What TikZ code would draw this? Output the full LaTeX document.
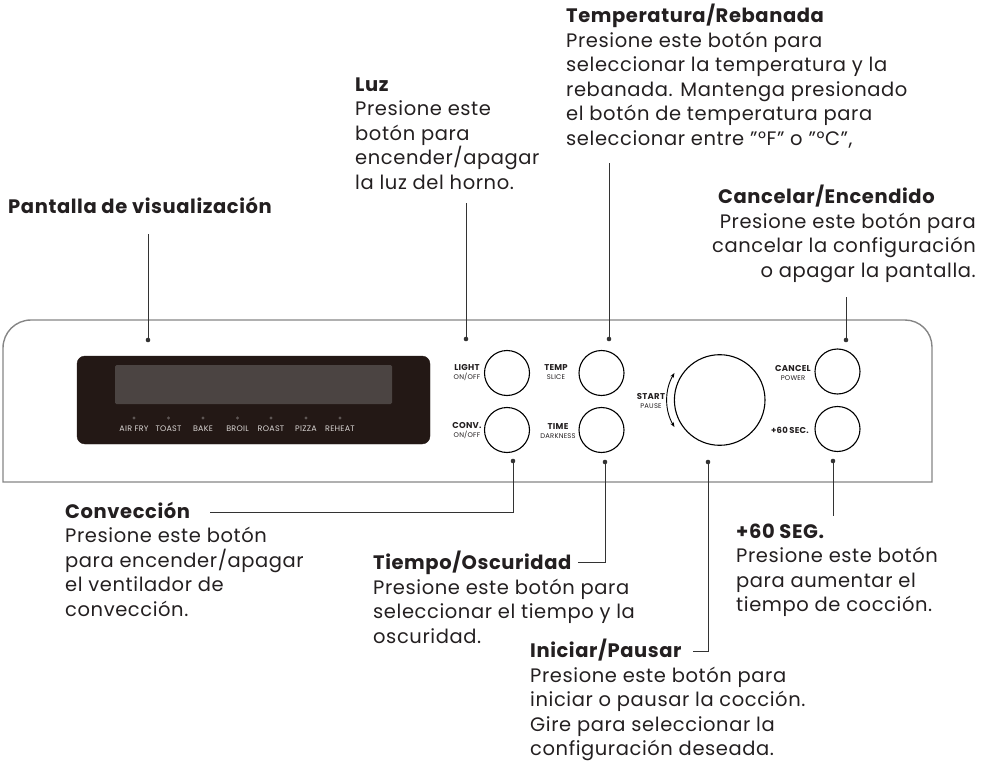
\documentclass[tikz,border=0pt]{standalone}
\usepackage{fontspec}
\setmainfont{Poppins}[LetterSpace=3]
\usetikzlibrary{arrows.meta}
\definecolor{txt}{HTML}{231F20}
\definecolor{pan}{HTML}{858585}
\definecolor{disp}{HTML}{231815}
\definecolor{scr}{HTML}{4B4442}
\definecolor{led}{HTML}{5E5654}
\definecolor{ledtxt}{HTML}{D9D5D3}
\definecolor{ln}{HTML}{333333}
\begin{document}
\begin{tikzpicture}[x=1pt,y=-1pt,
  body/.style={font=\fontsize{19.5}{24.5}\selectfont, text=txt, inner sep=0pt, align=left, anchor=north west},
  bodyr/.style={font=\fontsize{19.5}{24.5}\selectfont, text=txt, inner sep=0pt, align=right, anchor=north east},
  head/.style={font=\fontsize{19.5}{24.5}\selectfont\bfseries, text=txt, inner sep=0pt, anchor=base west},
  btn/.style={circle, draw=black, line width=1.1pt, minimum size=45pt, inner sep=0pt},
  knobst/.style={circle, draw=black, line width=1.1pt, minimum size=90.6pt, inner sep=0pt},
  blbl/.style={align=center, inner sep=0pt, text=txt, font=\fontsize{8.5}{9}\selectfont\bfseries},
  conn/.style={draw=ln, line width=0.9pt},
  cdot/.style={circle, fill=ln, inner sep=0pt, minimum size=4.6pt},
  mode/.style={font=\fontsize{8}{8}\selectfont, text=ledtxt, inner sep=0pt},
  ledd/.style={circle, fill=led, inner sep=0pt, minimum size=3.2pt}
]
\useasboundingbox (0,0) rectangle (997,765);
\newcommand{\sub}[1]{{\fontsize{6.8}{9}\selectfont\mdseries #1}}

% panel outline
\draw[draw=pan, line width=1.4pt] (3,482) -- (3,348) .. controls (3,332.5) and (15.5,320) .. (31,320)
  -- (905,320) .. controls (920,320) and (932,332) .. (932,347) -- (932,482) -- cycle;

% display
\draw[fill=disp, draw=disp, rounded corners=8pt] (77,356) rectangle (430,444);
\fill[scr, rounded corners=1.5pt] (115,365) rectangle (392,404);
\foreach \x/\m [count=\i] in {134/AIR FRY,168.5/TOAST,203/BAKE,237.5/BROIL,271/ROAST,306/PIZZA,340/REHEAT}{
  \node[ledd] (led\i) at (\x,418) {};
  \node[mode] (mode\i) at (\x,429) {\m};
}

% buttons
\node[btn] (light) at (507,373) {};
\node[btn] (conv) at (507,430) {};
\node[btn] (temp) at (601.5,373) {};
\node[btn] (time) at (601.5,430) {};
\node[btn] (cancel) at (837.5,371.5) {};
\node[btn] (sec) at (837.5,429) {};
\node[knobst] (knob) at (719.7,400) {};

\node[blbl] (lightl) at (467,372.5) {LIGHT\\\sub{ON/OFF}};
\node[blbl] (convl) at (467,431) {CONV.\\\sub{ON/OFF}};
\node[blbl] (templ) at (556,372.5) {TEMP\\\sub{SLICE}};
\node[blbl] (timel) at (558,431) {TIME\\\sub{DARKNESS}};
\node[blbl] (cancell) at (793,373) {CANCEL\\\sub{POWER}};
\node[blbl] (secl) at (790,430) {+60\,SEC.};
\node[blbl] (startl) at (651,401) {START\\\sub{PAUSE}};

% rotation arrows
\draw[line width=0.9pt, {Stealth[length=5pt,width=3.6pt]}-{Stealth[length=5pt,width=3.6pt]}]
  (674.5,372.9) .. controls (664.5,389.6) and (664.5,410.4) .. (674.5,427.1);

% texts
\node[body] (ttemp) at (566,3.85) {\strut\textbf{Temperatura/Rebanada}\\Presione este botón para\\seleccionar la temperatura y la\\rebanada. Mantenga presionado\\el botón de temperatura para\\seleccionar entre "°F" o "°C",};
\node[body] (tluz) at (355,73.85) {\strut\textbf{Luz}\\Presione este\\botón para\\encender/apagar\\la luz del horno.};
\node[head] (tpant) at (8,214) {Pantalla de visualización};
\node[head] (tcanh) at (718,204) {Cancelar/Encendido};
\node[bodyr] (tcan) at (976,210.85) {\strut Presione este botón para\\cancelar la configuración\\o apagar la pantalla.};
\node[body] (tconv) at (65,500.85) {\strut\textbf{Convección}\\Presione este botón\\para encender/apagar\\el ventilador de\\convección.};
\node[body] (ttime) at (373,550.85) {\strut\textbf{Tiempo/Oscuridad}\\Presione este botón para\\seleccionar el tiempo y la\\oscuridad.};
\node[body] (tini) at (530,638.85) {\strut\textbf{Iniciar/Pausar}\\Presione este botón para\\iniciar o pausar la cocción.\\Gire para seleccionar la\\configuración deseada.};
\node[body] (tsec) at (736,520.85) {\strut\textbf{+60 SEG.}\\Presione este botón\\para aumentar el\\tiempo de cocción.};

% connectors
\node[cdot] (dpant) at (148,340) {};
\coordinate (epant) at (148,234);
\draw[conn] (dpant.center) -- (epant);
\node[cdot] (dlight) at (466,339) {};
\coordinate (elight) at (466,203);
\draw[conn] (dlight.center) -- (elight);
\node[cdot] (dtemp) at (609,339) {};
\coordinate (etemp) at (609,163);
\draw[conn] (dtemp.center) -- (etemp);
\node[cdot] (dcancel) at (846,340) {};
\coordinate (ecancel) at (846,297);
\draw[conn] (dcancel.center) -- (ecancel);
\node[cdot] (dconv) at (513,461) {};
\coordinate (econv) at (210,512);
\draw[conn] (dconv.center) |- (econv);
\node[cdot] (dtime) at (605,462) {};
\coordinate (etime) at (578,562);
\draw[conn] (dtime.center) |- (etime);
\node[cdot] (dknob) at (708,462) {};
\coordinate (eknob) at (693,651);
\draw[conn] (dknob.center) |- (eknob);
\node[cdot] (dsec) at (833,461) {};
\coordinate (esec) at (833,516);
\draw[conn] (dsec.center) -- (esec);
\end{tikzpicture}
\end{document}
